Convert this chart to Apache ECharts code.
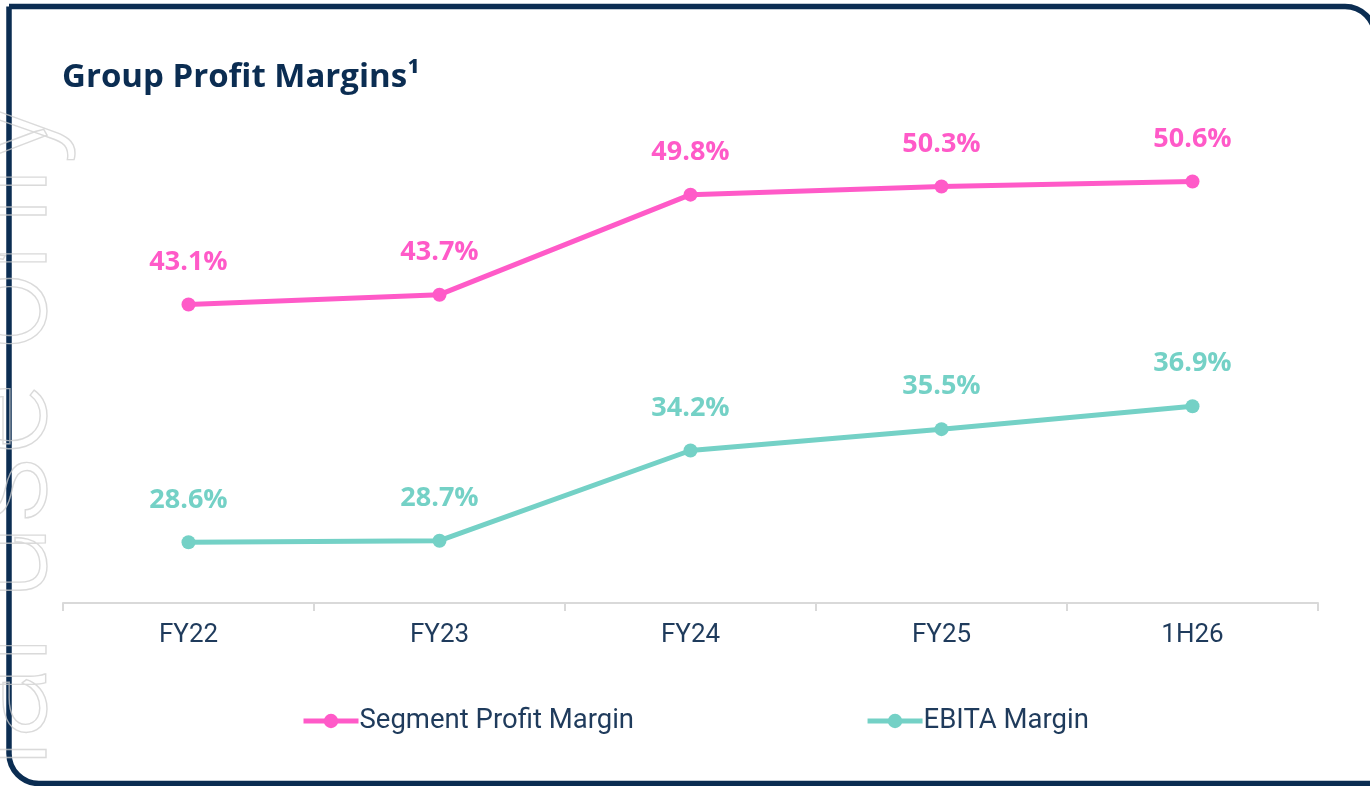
<!DOCTYPE html>
<html>
<head>
<meta charset="utf-8">
<script src="https://cdn.jsdelivr.net/npm/echarts@6/dist/echarts.min.js"></script>
<style>
html,body{margin:0;padding:0;background:#fff;}
#chart{width:1370px;height:786px;}
</style>
</head>
<body>
<div id="chart"></div>
<script>
const categories = ['FY22', 'FY23', 'FY24', 'FY25', '1H26'];
const segmentProfitMargin = [43.1, 43.7, 49.8, 50.3, 50.6];
const ebitaMargin = [28.6, 28.7, 34.2, 35.5, 36.9];
const seriesNames = ['Segment Profit Margin', 'EBITA Margin'];

const PINK = '#ff5ac8';
const TEAL = '#74d1c6';
const NAVY = '#0b2d52';
const TEXT = '#1f3b5c';

const chart = echarts.init(document.getElementById('chart'), null, {renderer: 'canvas'});

function labelCfg(color) {
  return {
    show: true,
    position: 'top',
    distance: 22,
    formatter: p => p.value.toFixed(1) + '%',
    color: color,
    fontFamily: 'Open Sans',
    fontWeight: 'bold',
    fontSize: 27
  };
}

const option = {
  animation: false,
  backgroundColor: '#fff',
  title: {
    text: 'Group Profit Margins¹',
    left: 57,
    top: 56,
    textStyle: {color: NAVY, fontFamily: 'Open Sans', fontWeight: 'bold', fontSize: 33}
  },
  grid: {left: 63, right: 52, top: 29, bottom: 183, containLabel: false},
  legend: {
    top: 702,
    left: 296,
    itemWidth: 55,
    itemHeight: 18,
    itemGap: 231,
    lineStyle: {width: 5},
    textStyle: {color: TEXT, fontFamily: 'Roboto', fontSize: 27.5, padding: [0, 0, 0, -4]},
    data: seriesNames
  },
  xAxis: {
    type: 'category',
    data: categories,
    boundaryGap: true,
    axisLine: {show: true, lineStyle: {color: '#d9d9d9', width: 2}},
    axisTick: {show: true, length: 8, lineStyle: {color: '#d9d9d9', width: 2}},
    axisLabel: {color: TEXT, fontFamily: 'Roboto', fontSize: 26, margin: 19}
  },
  yAxis: {
    type: 'value',
    min: 24.9,
    max: 59.9,
    show: false,
    splitLine: {show: false}
  },
  series: [
    {
      name: seriesNames[0],
      type: 'line',
      data: segmentProfitMargin,
      symbol: 'circle',
      symbolSize: 14,
      color: PINK,
      lineStyle: {width: 5, color: PINK},
      itemStyle: {color: PINK},
      label: labelCfg(PINK)
    },
    {
      name: seriesNames[1],
      type: 'line',
      data: ebitaMargin,
      symbol: 'circle',
      symbolSize: 14,
      color: TEAL,
      lineStyle: {width: 5, color: TEAL},
      itemStyle: {color: TEAL},
      label: labelCfg(TEAL)
    }
  ],
  graphic: [
    {
      type: 'rect',
      z: 100,
      silent: true,
      shape: {x: 9, y: 6.5, width: 1366, height: 777, r: [0, 30, 0, 30]},
      style: {fill: 'none', stroke: NAVY, lineWidth: 5.5}
    },
    {
      type: 'text',
      z: 101,
      silent: true,
      x: 80,
      y: 100,
      rotation: Math.PI / 2,
      style: {
        text: 'For internal use only',
        font: '300 138px Roboto',
        align: 'right',
        verticalAlign: 'bottom',
        fill: 'none',
        stroke: 'rgba(205,205,205,0.75)',
        lineWidth: 1.4
      }
    }
  ]
};
chart.setOption(option);
</script>
</body>
</html>
